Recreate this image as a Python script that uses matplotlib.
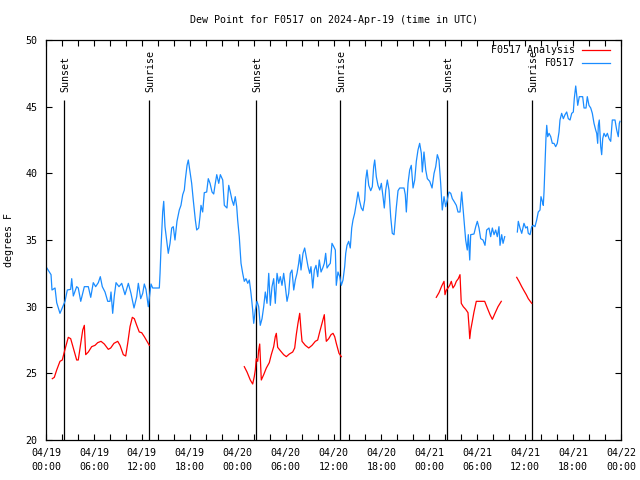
import numpy as np
import matplotlib
matplotlib.use("Agg")
import matplotlib.pyplot as plt

plt.rcParams['font.family'] = ['DejaVu Sans Mono']
plt.rcParams['font.size'] = 7.2

nan = np.nan

# hours after 2024-04-19 00:00 UTC
obs_hours = [
    0.00, 0.21, 0.63, 0.75, 1.13, 1.34, 1.75, 2.17, 2.38, 2.67, 3.09, 3.22, 3.42, 3.84, 4.04, 4.35,
    4.80, 5.30, 5.60, 5.92, 6.22, 6.55, 6.80, 7.05, 7.39, 7.73, 8.01, 8.14, 8.35, 8.55, 8.77, 9.14,
    9.48, 9.89, 10.31, 10.64, 11.02, 11.36, 11.56, 11.86, 12.11, 12.31, 12.52, 12.81, 13.15, 13.36,
    14.19, 14.28, 14.40, 14.61, 14.74, 14.90, 15.11, 15.31, 15.53, 15.74, 15.94, 16.15, 16.40, 16.69,
    16.90, 17.12, 17.32, 17.44, 17.66, 17.82, 18.03, 18.24, 18.44, 18.70, 18.87, 19.12, 19.28, 19.41,
    19.62, 19.82, 20.12, 20.32, 20.54, 20.79, 21.00, 21.16, 21.38, 21.63, 21.83, 22.13, 22.33, 22.66,
    22.88, 23.08, 23.29, 23.50, 23.70, 23.88, 24.00, 24.20, 24.42, 24.63, 24.83, 25.04, 25.26, 25.46,
    25.67, 25.88, 26.01, 26.21, 26.42, 26.63, 26.83, 27.05, 27.26, 27.46, 27.67, 27.89, 28.09, 28.30,
    28.51, 28.71, 28.93, 29.14, 29.34, 29.55, 29.76, 29.97, 30.18, 30.39, 30.59, 30.80, 31.02, 31.22,
    31.43, 31.64, 31.77, 31.93, 32.18, 32.39, 32.59, 32.81, 33.02, 33.18, 33.40, 33.60, 33.81, 34.02,
    34.22, 34.44, 34.65, 34.85, 35.02, 35.19, 35.40, 35.60, 35.81, 36.03, 36.23, 36.35, 36.56, 36.78,
    36.98, 37.19, 37.40, 37.53, 37.69, 37.90, 38.10, 38.28, 38.44, 38.65, 38.86, 39.07, 39.28, 39.48,
    39.69, 39.91, 40.03, 40.20, 40.41, 40.66, 40.86, 41.03, 41.16, 41.36, 41.57, 41.79, 41.99, 42.20,
    42.36, 42.54, 42.74, 42.95, 43.16, 43.36, 43.58, 43.74, 43.86, 44.08, 44.29, 44.83, 44.99, 45.12,
    45.33, 45.54, 45.74, 45.96, 46.17, 46.37, 46.58, 46.79, 47.00, 47.12, 47.33, 47.55, 47.75, 48.05,
    48.34, 48.59, 48.80, 49.00, 49.21, 49.42, 49.62, 49.84, 50.05, 50.25, 50.46, 50.68, 50.88, 51.09,
    51.38, 51.59, 51.84, 52.05, 52.22, 52.34, 52.55, 52.75, 52.88, 53.06, 53.18, 53.59, 53.81, 54.01,
    54.22, 54.43, 54.72, 54.97, 55.18, 55.47, 55.68, 55.89, 56.10, 56.31, 56.51, 56.72, 56.85, 57.06,
    57.23, 57.44, 58.20, 59.02, 59.14, 59.35, 59.57, 59.85, 60.07, 60.27, 60.39, 60.61, 60.82, 61.02,
    61.23, 61.44, 61.64, 61.86, 61.98, 62.15, 62.27, 62.36, 62.48, 62.61, 62.70, 62.82, 62.99, 63.20,
    63.40, 63.61, 63.82, 64.02, 64.24, 64.36, 64.57, 64.78, 64.99, 65.20, 65.40, 65.62, 65.83, 66.03,
    66.15, 66.33, 66.45, 66.58, 66.78, 66.99, 67.20, 67.37, 67.62, 67.78, 67.99, 68.21, 68.41, 68.62,
    68.83, 68.96, 69.08, 69.16, 69.28, 69.46, 69.58, 69.71, 69.87, 70.09, 70.29, 70.50, 70.71, 70.91,
    71.25, 71.46, 71.66, 71.79, 71.87,
]
obs_dewpt = [
    33.0, 32.8, 32.4, 31.25, 31.4, 30.3, 29.5, 30.1, 30.4, 31.25, 31.3, 32.1, 30.8, 31.5, 31.4, 30.4,
    31.5, 31.5, 30.7, 31.8, 31.5, 31.8, 32.25, 31.5, 31.1, 30.4, 30.4, 31.1, 29.5, 30.8, 31.8, 31.5,
    31.75, 30.9, 31.75, 31.0, 29.9, 30.75, 31.75, 30.6, 31.0, 31.7, 31.3, 30.0, 31.7, 31.4,
    31.4, 32.5, 34.4, 37.1, 37.9, 36.0, 35.0, 34.0, 34.75, 35.9, 36.0, 35.0, 36.4, 37.25,
    37.6, 38.4, 38.75, 39.5, 40.6, 41.0, 40.1, 39.25, 38.0, 36.5, 35.75, 35.9, 36.75, 37.6,
    37.1, 38.55, 38.6, 39.6, 39.25, 38.6, 38.45, 39.1, 39.9, 39.25, 39.9, 39.5, 37.6, 37.4,
    39.1, 38.6, 38.0, 37.6, 38.25, 37.5, 36.5, 35.25, 33.25, 32.5, 31.9, 32.1, 31.75, 32.0,
    31.0, 29.75, 28.75, 29.75, 30.4, 30.0, 28.6, 29.1, 30.0, 31.1, 30.25, 32.5, 30.1, 31.5,
    32.1, 30.25, 32.5, 31.75, 32.25, 31.6, 32.5, 31.5, 30.4, 31.0, 32.5, 32.75, 31.25, 32.0,
    32.5, 33.25, 33.9, 32.75, 34.0, 34.4, 33.75, 33.0, 32.5, 33.0, 31.4, 32.75, 33.1, 32.25,
    33.5, 32.6, 32.9, 33.25, 34.0, 32.9, 33.1, 33.25, 34.75, 34.5, 34.25, 31.6, 32.6, 32.25,
    31.6, 32.0, 33.0, 34.0, 34.6, 34.9, 34.4, 35.9, 36.5, 37.0, 37.75, 38.6, 37.9, 37.4,
    37.2, 38.0, 39.5, 40.25, 39.1, 38.7, 39.0, 40.5, 41.0, 39.75, 39.1, 38.75, 39.25, 38.25,
    37.4, 38.75, 39.5, 38.75, 36.75, 35.5, 35.4, 36.5, 37.4, 38.7, 38.9, 38.9, 38.4, 37.1,
    39.25, 40.25, 40.6, 38.9, 39.5, 40.9, 41.75, 42.25, 41.5, 40.1, 41.6, 40.25, 39.6, 39.4,
    38.9, 40.0, 40.5, 41.4, 41.0, 39.25, 37.25, 38.25, 37.5, 38.0, 38.6, 38.5, 38.1, 37.9,
    37.6, 37.1, 37.1, 38.6, 37.4, 36.5, 35.0, 34.25, 35.4, 33.5, 35.4, 35.45, 36.0, 36.4,
    35.9, 35.1, 35.0, 34.6, 35.75, 35.9, 35.25, 35.9, 35.4, 35.75, 35.25, 36.0, 34.6, 35.4,
    34.75, 35.25, nan, 35.6, 36.4, 35.9, 35.5, 36.25, 35.9, 36.0, 35.5, 35.4, 36.0, 36.1,
    36.0, 36.5, 37.1, 37.25, 38.25, 37.9, 37.6, 38.6, 40.6, 42.75, 43.6, 42.75, 43.0, 42.75,
    42.25, 42.25, 42.0, 42.25, 43.1, 44.0, 44.5, 44.1, 44.4, 44.6, 44.1, 44.0, 44.5, 44.6,
    45.6, 46.55, 45.9, 45.1, 45.75, 45.75, 45.75, 44.9, 44.9, 45.75, 45.1, 44.9, 44.5, 43.75,
    43.25, 43.0, 42.25, 43.6, 44.0, 42.0, 41.4, 42.6, 43.0, 42.75, 43.0, 42.6, 42.4, 44.0,
    44.0, 43.25, 42.75, 43.75, 43.9,
]

ana_hours = [
    0.79, 1.04, 1.34, 1.75, 2.04, 2.25, 2.47, 2.79, 3.09, 3.42, 3.84, 4.04, 4.35, 4.60, 4.80, 4.97,
    5.30, 5.72, 6.14, 6.47, 6.89, 7.30, 7.80, 8.10, 8.51, 8.98, 9.27, 9.68, 9.98, 10.23, 10.52, 10.81,
    11.06, 11.36, 11.68, 11.98, 12.31, 12.94, 18.0,
    24.83, 25.17, 25.58, 25.88, 26.08, 26.21, 26.33, 26.51, 26.63, 26.76, 26.83, 26.96, 27.26, 27.59,
    27.96, 28.21, 28.51, 28.71, 28.84, 29.01, 29.34, 29.76, 30.09, 30.47, 30.89, 31.14, 31.34, 31.55,
    31.77, 31.93, 32.06, 32.47, 32.90, 33.31, 33.72, 34.02, 34.27, 34.56, 34.85, 34.97, 35.10, 35.40,
    35.69, 35.94, 36.15, 36.35, 36.69, 36.98, 42.0,
    48.87, 49.21, 49.55, 49.84, 49.96, 50.13, 50.34, 50.55, 50.75, 50.96, 51.18, 51.38, 51.63, 51.84,
    52.00, 52.25, 52.55, 52.84, 52.97, 53.06, 53.18, 53.38, 53.59, 53.88, 54.93, 55.26, 55.60, 55.89,
    56.22, 56.60, 57.01, 58.0,
    58.94, 59.23, 59.57, 59.85, 60.14, 60.39, 60.82,
]
ana_dewpt = [
    24.6, 24.7, 25.25, 25.9, 26.0, 26.5, 27.0, 27.7, 27.6, 26.9, 26.0, 26.0, 27.25, 28.25, 28.6, 26.4,
    26.6, 27.0, 27.1, 27.3, 27.4, 27.2, 26.8, 26.9, 27.25, 27.4, 27.1, 26.4, 26.3, 27.25, 28.5, 29.2,
    29.1, 28.6, 28.1, 28.05, 27.75, 27.1, nan,
    25.5, 25.1, 24.5, 24.2, 24.75, 25.25, 26.1, 25.9, 26.75, 27.2, 26.25, 24.5, 24.9, 25.4,
    25.8, 26.4, 27.0, 27.75, 28.0, 26.95, 26.7, 26.4, 26.25, 26.45, 26.6, 26.9, 27.9, 28.75,
    29.5, 28.25, 27.4, 27.1, 26.9, 27.1, 27.4, 27.5, 28.1, 28.75, 29.4, 28.25, 27.4, 27.6,
    27.9, 28.0, 27.75, 27.25, 26.5, 26.25, nan,
    30.7, 31.05, 31.55, 31.9, 30.9, 31.25, 31.4, 31.6, 31.9, 31.4, 31.6, 31.9, 32.1, 32.4,
    30.25, 30.0, 29.8, 29.55, 28.5, 27.6, 28.25, 28.9, 29.6, 30.4, 30.4, 29.9, 29.4, 29.05,
    29.5, 30.0, 30.4, nan,
    32.2, 31.9, 31.5, 31.2, 30.9, 30.6, 30.25,
]

sun_hours = [2.29, 12.94, 26.33, 36.86, 50.25, 60.90]
sun_labels = ['Sunset', 'Sunrise', 'Sunset', 'Sunrise', 'Sunset', 'Sunrise']

tick_hours = list(range(0, 73, 6))
tick_labels = ['04/19\n00:00', '04/19\n06:00', '04/19\n12:00', '04/19\n18:00',
               '04/20\n00:00', '04/20\n06:00', '04/20\n12:00', '04/20\n18:00',
               '04/21\n00:00', '04/21\n06:00', '04/21\n12:00', '04/21\n18:00',
               '04/22\n00:00']

fig = plt.figure(figsize=(6.4, 4.8), dpi=100)
ax = fig.add_axes([46 / 640, 40 / 480, 575 / 640, 400 / 480])

ax.vlines(sun_hours, 20, 45.5, color='black', lw=0.9, zorder=1)
for t, lab in zip(sun_hours, sun_labels):
    ax.text(t + 0.1, 46.1, lab, rotation=90, ha='center', va='bottom', fontsize=7.2)

ax.plot(ana_hours, ana_dewpt, color='#ff0000', lw=0.9, zorder=2)
ax.plot(obs_hours, obs_dewpt, color='#1a8cff', lw=0.9, zorder=2)

ax.set_xlim(0, 72)
ax.set_ylim(20, 50)
ax.set_xticks(tick_hours)
ax.set_xticklabels(tick_labels, linespacing=1.5)
ax.set_xticks(np.arange(0, 73, 2), minor=True)
ax.set_yticks(range(20, 51, 5))
ax.tick_params(which='both', direction='in', top=True, right=True, length=4, width=0.8,
               labelsize=7.2)
ax.tick_params(axis='x', which='major', pad=6)
ax.tick_params(axis='y', pad=6)
for s in ax.spines.values():
    s.set_linewidth(0.9)

ax.set_ylabel('degrees F', fontsize=7.2)
ax.yaxis.set_label_coords(-0.055, 0.5)
ax.set_title('Dew Point for F0517 on 2024-Apr-19 (time in UTC)', fontsize=7.2, pad=12)

# legend, gnuplot style: text right-justified, sample on the right
for i, (lab, col) in enumerate([('F0517 Analysis', '#ff0000'), ('F0517', '#1a8cff')]):
    y = 0.975 - i * 0.033
    ax.text(0.92, y, lab, transform=ax.transAxes, ha='right', va='center', fontsize=7.2)
    ax.plot([0.932, 0.981], [y, y], transform=ax.transAxes, color=col, lw=0.9)

fig.savefig('out.png', dpi=100)
